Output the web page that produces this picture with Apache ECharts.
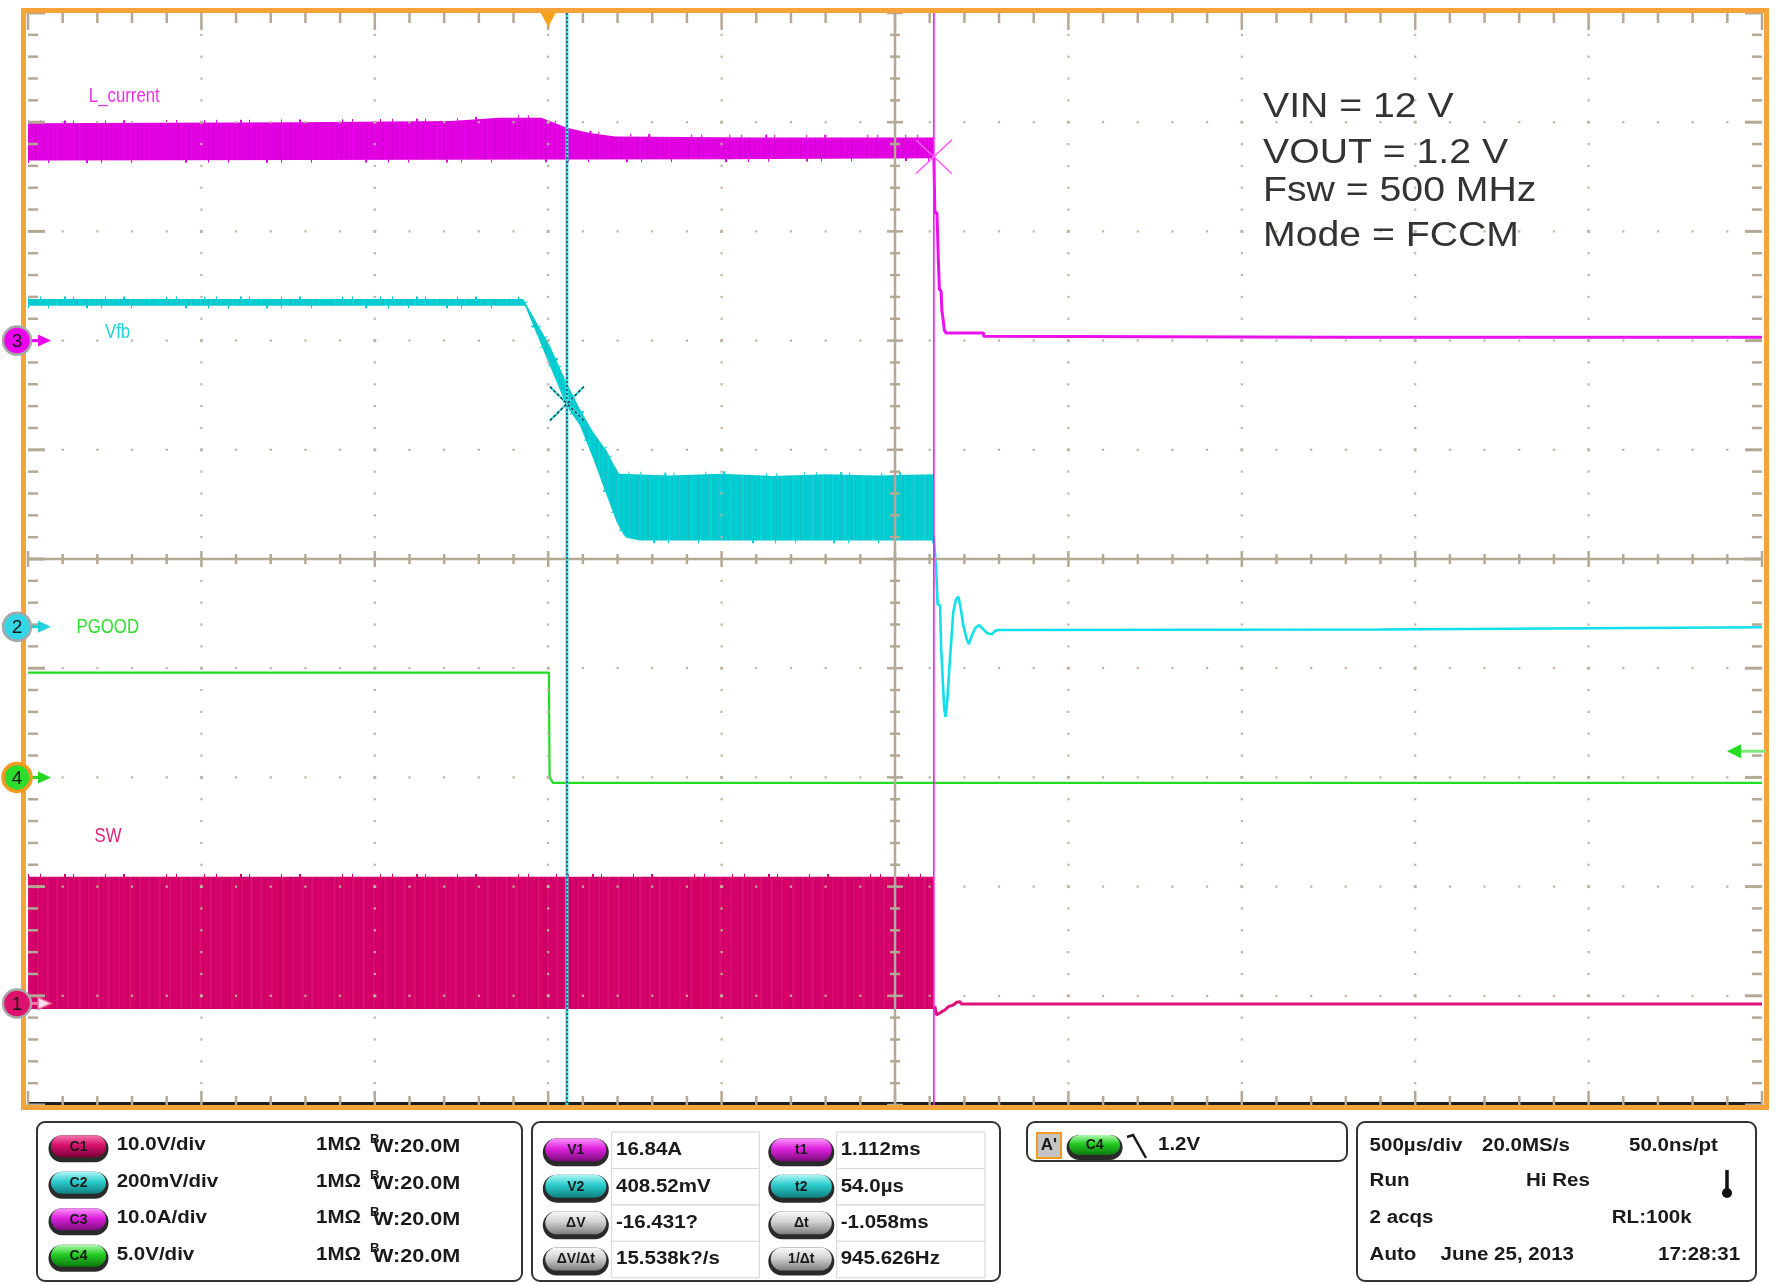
<!DOCTYPE html>
<html>
<head>
<meta charset="utf-8">
<script src="https://cdn.jsdelivr.net/npm/echarts@6/dist/echarts.min.js"></script>
<style>html,body{margin:0;padding:0;background:#fff}#c{width:1777px;height:1284px}</style>
</head>
<body>
<div id="c"></div>
<script>
// ---------------- DATA (time in ms from trigger, values in channel units) ----------------
const xRangeMs = [-1.5, 3.5];
const xMajorMs = 0.5;            // 500 µs/div
const yRangeDiv = [-5, 5];
const minorPerMajor = 5;

// channel order: C1 SW (V), C2 Vfb (mV), C3 L_current (A), C4 PGOOD (V)
const channelLabels = ['SW', 'Vfb', 'L_current', 'PGOOD'];
const channelPerDiv = [10, 200, 10, 5];
const channelOffsetDiv = [-4.07, -0.62, 2.0, -2.0];

// L_current (A) switching band envelope, then the drop after t1
const lcUpper = [[-1.5,19.9],[-0.72,20.0],[-0.28,20.1],[-0.14,20.4],[-0.02,20.4],[0.054,19.5],[0.12,19.0],[0.193,18.7],[0.6,18.6],[1.11,18.6]];
const lcLower = [[-1.5,16.5],[0.5,16.6],[1.11,16.7]];
const lcAfter = [[1.112,16.9],[1.115,11.7],[1.121,11.7],[1.125,7.4],[1.128,4.7],[1.133,4.5],[1.135,2.8],[1.139,1.9],[1.142,1.0],[1.147,0.7],[1.255,0.7],[1.256,0.4],[2.3,0.3],[3.5,0.3]];

// Vfb (mV)
const vfbUpper = [[-1.5,600],[-0.072,600],[0.005,514],[0.053,447],[0.092,398],[0.13,356],[0.169,322],[0.188,298],[0.205,280],[0.35,277],[0.5,280],[0.65,276],[0.8,279],[0.95,277],[1.11,279]];
const vfbLower = [[-1.5,588],[-0.067,588],[0.053,404],[0.092,368],[0.13,307],[0.169,240],[0.198,191],[0.217,169],[0.226,163],[0.265,158],[1.11,158]];
const vfbAfter = [[1.112,164],[1.118,111],[1.123,41],[1.13,39],[1.133,-38],[1.138,-102],[1.142,-151],[1.146,-165],[1.151,-133],[1.157,-72],[1.164,-10],[1.168,27],[1.176,50],[1.183,55],[1.19,32],[1.197,2],[1.207,-23],[1.213,-32],[1.221,-17],[1.231,-3],[1.243,3],[1.255,-5],[1.266,-12],[1.279,-14],[1.288,-8],[1.298,-6],[2.4,-5],[3.5,-1]];

// PGOOD (V)
const pgood = [[-1.5,4.8],[0.002,4.8],[0.004,0.0],[0.014,-0.25],[3.5,-0.25]];

// SW (V)
const swTop = [[-1.5,11.6],[1.11,11.6]];
const swBottom = [[-1.5,-0.5],[1.11,-0.5]];
const swAfter = [[1.112,-0.53],[1.115,-0.29],[1.12,-1.05],[1.128,-0.9],[1.135,-0.75],[1.144,-0.6],[1.154,-0.29],[1.168,-0.14],[1.178,0.11],[1.187,0.16],[1.192,-0.05],[3.5,-0.05]];

// cursors / trigger
const cursorT = [1.112, 0.054];        // t1, t2 (ms)
const cursorV = [16.84, 408.52];       // V1 on C3 (A), V2 on C2 (mV)
const cursorCh = [2, 1];
const triggerT = 0;
const triggerLevelV = 1.2;             // on C4

// panel texts
const chanSettings = ['10.0V/div', '200mV/div', '10.0A/div', '5.0V/div'];
const measLabelsL = ['V1', 'V2', 'ΔV', 'ΔV/Δt'];
const measValuesL = ['16.84A', '408.52mV', '-16.431?', '15.538k?/s'];
const measLabelsR = ['t1', 't2', 'Δt', '1/Δt'];
const measValuesR = ['1.112ms', '54.0µs', '-1.058ms', '945.626Hz'];
const annotLines = ['VIN = 12 V', 'VOUT = 1.2 V', 'Fsw = 500 MHz', 'Mode = FCCM'];

// ---------------- helpers ----------------
const toDiv = (ch, v) => channelOffsetDiv[ch] + v / channelPerDiv[ch];
const mapCh = (ch, arr) => arr.map(p => [p[0], toDiv(ch, p[1])]);

const FONT = '"Liberation Sans", Arial, Helvetica, sans-serif';
const TAN = '#b3a995';

function stripePattern(colors, widths) {
  const total = widths.reduce((a, b) => a + b, 0);
  const cv = document.createElement('canvas');
  cv.width = total; cv.height = 4;
  const ctx = cv.getContext('2d');
  let x = 0;
  widths.forEach((w, i) => { ctx.fillStyle = colors[i % colors.length]; ctx.fillRect(x, 0, w, 4); x += w; });
  return { image: cv, repeat: 'repeat' };
}
const STRIPE_W = [4, 1, 3, 2, 5, 1, 2, 1, 6, 2, 3, 1, 4, 2, 2, 1, 5, 1, 3, 2];
const JAG_A = [1, 11, 1, 23, 2, 7, 1, 31, 1, 17, 2, 41, 1, 9, 1, 27];
const JAG_B = [1, 19, 1, 37, 2, 13, 1, 29, 1, 53, 2, 21];

const bands = [
  { ch: 2, upper: lcUpper, lower: lcLower, color: '#e000e0', fill: stripePattern(['#e200e2', '#d400d4', '#e600e6', '#da00da'], STRIPE_W), jagTop: true, jagBot: true },
  { ch: 1, upper: vfbUpper, lower: vfbLower, color: '#00cdd1', fill: stripePattern(['#00cdd1', '#14bfc6', '#00d4d8', '#0cc4ca'], STRIPE_W), jagTop: true, jagBot: true },
  { ch: 0, upper: swTop, lower: swBottom, color: '#d5006a', fill: stripePattern(['#d6006b', '#c80062', '#da0a70', '#cc0064'], STRIPE_W), jagTop: true, jagBot: false }
];

function renderBand(params, api) {
  const b = bands[params.dataIndex];
  const up = b.upper.map(p => api.coord([p[0], toDiv(b.ch, p[1])]));
  const lo = b.lower.map(p => api.coord([p[0], toDiv(b.ch, p[1])]));
  const children = [{ type: 'polygon', shape: { points: up.concat(lo.slice().reverse()) }, style: { fill: b.fill } }];
  if (b.jagTop) children.push({ type: 'polyline', shape: { points: up.map(p => [p[0], p[1] - 1.2]) }, style: { stroke: b.color, lineWidth: 3, fill: 'none', lineDash: JAG_A } });
  if (b.jagBot) children.push({ type: 'polyline', shape: { points: lo.map(p => [p[0], p[1] + 1.2]) }, style: { stroke: b.color, lineWidth: 3, fill: 'none', lineDash: JAG_B } });
  return { type: 'group', children: children };
}

function renderDeco(params, api) {
  const c = [];
  const TL = api.coord([xRangeMs[0], yRangeDiv[1]]);
  const BR = api.coord([xRangeMs[1], yRangeDiv[0]]);
  const x0 = TL[0], y0 = TL[1], x1 = BR[0], y1 = BR[1];
  const xCenter = (xRangeMs[0] + xRangeMs[1]) / 2;
  const C = api.coord([xCenter, 0]);
  const xc = C[0], yc = C[1];
  const nMajX = Math.round((xRangeMs[1] - xRangeMs[0]) / xMajorMs);
  const nMajY = Math.round(yRangeDiv[1] - yRangeDiv[0]);
  const nX = nMajX * minorPerMajor, nY = nMajY * minorPerMajor;
  const L = (xa, ya, xb, yb, col, w) => c.push({ type: 'line', shape: { x1: xa, y1: ya, x2: xb, y2: yb }, style: { stroke: col, lineWidth: w } });
  const D = (x, y, s) => c.push({ type: 'rect', shape: { x: x - s / 2, y: y - s / 2, width: s, height: s }, style: { fill: '#bdb3a2' } });

  c.push({ type: 'rect', shape: { x: x0, y: y1 - 3, width: x1 - x0, height: 3 }, style: { fill: '#1e1e1e' } });
  L(xc, y0, xc, y1, TAN, 2.5);
  L(x0, yc, x1, yc, TAN, 2.5);

  const majRowsY = [];
  for (let k = 1; k < nMajY; k++) if (k !== nMajY / 2) majRowsY.push(api.coord([xCenter, yRangeDiv[0] + k])[1]);
  const majColsX = [];
  for (let k = 1; k < nMajX; k++) if (k !== nMajX / 2) majColsX.push(api.coord([xRangeMs[0] + k * xMajorMs, 0])[0]);

  for (let i = 0; i <= nX; i++) {
    const t = xRangeMs[0] + i * xMajorMs / minorPerMajor;
    const px = api.coord([t, 0])[0];
    const major = i % minorPerMajor === 0;
    L(px, y0, px, y0 + (major ? 17 : 10), TAN, 2.5);
    L(px, y1 - (major ? 14 : 9), px, y1 + 1, TAN, 2.5);
    L(px, yc - (major ? 8 : 5), px, yc + (major ? 8 : 5), TAN, 2.5);
    if (i > 0 && i < nX) majRowsY.forEach(py => D(px, py, major ? 3 : 2.2));
  }
  for (let j = 0; j <= nY; j++) {
    const v = yRangeDiv[0] + j / minorPerMajor;
    const py = api.coord([xCenter, v])[1];
    const major = j % minorPerMajor === 0;
    L(x0, py, x0 + (major ? 17 : 10), py, TAN, major ? 3 : 2.5);
    L(x1 - (major ? 17 : 10), py, x1, py, TAN, major ? 3 : 2.5);
    L(xc - (major ? 8 : 5), py, xc + (major ? 8 : 5), py, TAN, 2.5);
    if (j > 0 && j < nY && !major) majColsX.forEach(px => D(px, py, 2.2));
  }
  return { type: 'group', children: c };
}

const markerFill = ['#e0106e', '#33d6e4', '#ee00ee', '#2edc2e'];
const arrowCol = ['#e0107a', '#22d0e0', '#ee00ee', '#22d822'];

function renderMarkers(params, api) {
  const c = [];
  const TL = api.coord([xRangeMs[0], yRangeDiv[1]]);
  const BR = api.coord([xRangeMs[1], yRangeDiv[0]]);
  const x0 = TL[0], y0 = TL[1], x1 = BR[0], y1 = BR[1];

  const t2x = api.coord([cursorT[1], 0])[0];
  c.push({ type: 'line', shape: { x1: t2x, y1: y0, x2: t2x, y2: y1 }, style: { stroke: '#3fdde6', lineWidth: 3 } });
  c.push({ type: 'line', shape: { x1: t2x, y1: y0, x2: t2x, y2: y1 }, style: { stroke: '#1d3b55', lineWidth: 1.4, lineDash: [2, 2] } });
  const t1x = api.coord([cursorT[0], 0])[0];
  c.push({ type: 'line', shape: { x1: t1x, y1: y0, x2: t1x, y2: y1 }, style: { stroke: '#ff10ff', lineWidth: 1.6 } });

  const v1 = api.coord([cursorT[0], toDiv(cursorCh[0], cursorV[0])]);
  [[-18, -17, 18, 17], [-18, 17, 18, -17]].forEach(d => {
    c.push({ type: 'line', shape: { x1: v1[0] + d[0], y1: v1[1] + d[1], x2: v1[0] + d[2], y2: v1[1] + d[3] }, style: { stroke: '#ff5cff', lineWidth: 1.6 } });
  });
  const v2 = api.coord([cursorT[1], toDiv(cursorCh[1], cursorV[1])]);
  [[-17, -17, 17, 17], [-17, 17, 17, -17]].forEach(d => {
    c.push({ type: 'line', shape: { x1: v2[0] + d[0], y1: v2[1] + d[1], x2: v2[0] + d[2], y2: v2[1] + d[3] }, style: { stroke: '#44e4ea', lineWidth: 2.2 } });
    c.push({ type: 'line', shape: { x1: v2[0] + d[0], y1: v2[1] + d[1], x2: v2[0] + d[2], y2: v2[1] + d[3] }, style: { stroke: '#1b2a3a', lineWidth: 1.2, lineDash: [3, 2] } });
  });

  c.push({ type: 'rect', shape: { x: x0 - 4.5, y: y0 - 2.5, width: (x1 - x0) + 9, height: (y1 - y0) + 5 }, style: { fill: 'none', stroke: '#f6a43a', lineWidth: 5 } });

  const tx = api.coord([triggerT, 0])[0];
  c.push({ type: 'polygon', shape: { points: [[tx - 8, y0 - 1], [tx + 8, y0 - 1], [tx, y0 + 14]] }, style: { fill: '#f7a21c' } });

  const ty = api.coord([xRangeMs[1], toDiv(3, triggerLevelV)])[1];
  c.push({ type: 'line', shape: { x1: x1 - 22, y1: ty, x2: x1 + 4, y2: ty }, style: { stroke: '#7ee87e', lineWidth: 3 } });
  c.push({ type: 'polygon', shape: { points: [[x1 - 35, ty], [x1 - 21, ty - 7], [x1 - 21, ty + 7]] }, style: { fill: '#22dd22' } });

  for (let ch = 0; ch < 4; ch++) {
    const py = api.coord([xRangeMs[0], channelOffsetDiv[ch]])[1];
    const cx = x0 - 11;
    if (ch === 0) {
      c.push({ type: 'line', shape: { x1: x0 + 3, y1: py, x2: x0 + 12, y2: py }, style: { stroke: '#f07aa8', lineWidth: 3 } });
      c.push({ type: 'polygon', shape: { points: [[x0 + 10, py - 6], [x0 + 10, py + 6], [x0 + 23, py]] }, style: { fill: '#ffe0ec', stroke: '#ee6aa0', lineWidth: 1.5 } });
    } else {
      c.push({ type: 'line', shape: { x1: x0 + 3, y1: py, x2: x0 + 12, y2: py }, style: { stroke: arrowCol[ch], lineWidth: 3 } });
      c.push({ type: 'polygon', shape: { points: [[x0 + 10, py - 6], [x0 + 10, py + 6], [x0 + 23, py]] }, style: { fill: arrowCol[ch] } });
    }
    c.push({ type: 'circle', shape: { cx: cx, cy: py, r: 14 }, style: { fill: markerFill[ch], stroke: ch === 3 ? '#f39a1e' : '#a6a6a6', lineWidth: ch === 3 ? 3.5 : 2.5 } });
    c.push({ type: 'text', x: cx, y: py + 1, style: { text: String(ch + 1), font: '19px ' + FONT, fill: '#151515', align: 'center', verticalAlign: 'middle', textAlign: 'center', textVerticalAlign: 'middle' } });
  }
  return { type: 'group', children: c };
}

// ---------------- graphic (texts & info panel) ----------------
function T(x, y, text, o) {
  o = o || {};
  return {
    type: 'text', x: x, y: y, scaleX: o.sx !== undefined ? o.sx : 1.14, z: 100,
    style: {
      text: text, fill: o.color || '#1a1a1a', font: o.font || ('bold 18px ' + FONT),
      align: o.align || 'left', verticalAlign: 'middle', textAlign: o.align || 'left', textVerticalAlign: 'middle'
    }
  };
}
const PILL = {
  c1: ['#f47aae', '#d8106c', '#7a0038'],
  c2: ['#b0f6f6', '#2ccccc', '#0f7f80'],
  c3: ['#fa96fa', '#de22de', '#7c0c7c'],
  c4: ['#b0fab0', '#22cc22', '#0e780e'],
  g:  ['#fafafa', '#d2d2d2', '#7e7e7e']
};
function pill(cx, cy, w, h, key, label, fs) {
  const col = PILL[key];
  return [
    { type: 'rect', z: 99, shape: { x: cx - w / 2 - 1, y: cy - h / 2 + 1, width: w + 2, height: h + 2, r: (h + 2) / 2 }, style: { fill: '#2a2a2a' } },
    { type: 'rect', z: 99, shape: { x: cx - w / 2 + 1.5, y: cy - h / 2 + 1, width: w - 3, height: h - 3, r: (h - 3) / 2 },
      style: { fill: { type: 'linear', x: 0, y: 0, x2: 0, y2: 1, colorStops: [{ offset: 0, color: col[0] }, { offset: 0.45, color: col[1] }, { offset: 1, color: col[2] }] } } },
    T(cx, cy, label, { font: 'bold ' + (fs || 14) + 'px ' + FONT, sx: 1, align: 'center', color: '#1a1a1a' })
  ];
}
function box(x, y, w, h) {
  return { type: 'rect', z: 98, shape: { x: x, y: y, width: w, height: h, r: 8 }, style: { fill: '#fff', stroke: '#333', lineWidth: 2 } };
}

const g = [];
g.push(T(88.8, 96.5, channelLabels[2], { font: '20px ' + FONT, color: '#ee30ee', sx: 0.84 }));
g.push(T(105, 332.5, channelLabels[1], { font: '20px ' + FONT, color: '#22d2dc', sx: 0.84 }));
g.push(T(76.5, 627.3, channelLabels[3], { font: '20px ' + FONT, color: '#30e030', sx: 0.84 }));
g.push(T(94.5, 836, channelLabels[0], { font: '20px ' + FONT, color: '#e8207c', sx: 0.84 }));
const annotY = [107.7, 153, 191, 236.5];
annotLines.forEach((s, i) => g.push(T(1263, annotY[i], s, { font: '35px ' + FONT, color: '#333333', sx: 1.12 })));

g.push(box(37, 1122, 485, 159));
const rows1 = [1145.2, 1181.7, 1218.2, 1254.7];
const pillKeys = ['c1', 'c2', 'c3', 'c4'];
rows1.forEach((y, i) => {
  pill(78.5, y + 1.5, 58, 25, pillKeys[i], 'C' + (i + 1), 14).forEach(e => g.push(e));
  g.push(T(116.7, y, chanSettings[i]));
  g.push(T(316, y, '1MΩ'));
  g.push(T(370, y - 6, 'B', { font: 'bold 12px ' + FONT, sx: 1.1 }));
  g.push(T(373, y + 2, 'W:20.0M', { sx: 1.2 }));
});

g.push(box(532, 1122, 468, 159));
const rows2 = [1150.3, 1186.7, 1223.3, 1259.5];
const keysL = ['c3', 'c2', 'g', 'g'];
rows2.forEach((y, i) => {
  g.push({ type: 'rect', z: 99, shape: { x: 611.7, y: y - 18.3, width: 147.6, height: 36.6 }, style: { fill: '#fff', stroke: '#d4d4d4', lineWidth: 1 } });
  g.push({ type: 'rect', z: 99, shape: { x: 836.7, y: y - 18.3, width: 148.3, height: 36.6 }, style: { fill: '#fff', stroke: '#d4d4d4', lineWidth: 1 } });
  pill(575.8, y, 64, 26, keysL[i], measLabelsL[i], 14).forEach(e => g.push(e));
  pill(801.3, y, 64, 26, keysL[i], measLabelsR[i], 14).forEach(e => g.push(e));
  g.push(T(616, y, measValuesL[i]));
  g.push(T(840.7, y, measValuesR[i]));
});

g.push(box(1027, 1122, 320, 39));
g.push({ type: 'rect', z: 99, shape: { x: 1037, y: 1133, width: 24, height: 25 }, style: { fill: '#c4c4c4', stroke: '#f39a1e', lineWidth: 2 } });
g.push(T(1049, 1145.5, "A'", { font: 'bold 17px ' + FONT, sx: 1, align: 'center' }));
pill(1094.6, 1145.5, 54, 23, 'c4', 'C4', 14).forEach(e => g.push(e));
g.push({ type: 'polyline', z: 100, shape: { points: [[1127, 1137], [1133, 1135], [1146, 1158]] }, style: { stroke: '#1a1a1a', lineWidth: 2.5, fill: 'none' } });
g.push(T(1158, 1145.5, '1.2V'));

g.push(box(1357, 1122, 399, 159));
const rows4 = [1146, 1181, 1218, 1255.5];
g.push(T(1369.6, rows4[0], '500µs/div'));
g.push(T(1482, rows4[0], '20.0MS/s'));
g.push(T(1629, rows4[0], '50.0ns/pt'));
g.push(T(1369.6, rows4[1], 'Run'));
g.push(T(1526, rows4[1], 'Hi Res'));
g.push(T(1369.6, rows4[2], '2 acqs'));
g.push(T(1611.8, rows4[2], 'RL:100k'));
g.push(T(1369.6, rows4[3], 'Auto'));
g.push(T(1440.5, rows4[3], 'June 25, 2013'));
g.push(T(1658, rows4[3], '17:28:31'));
g.push({ type: 'line', z: 100, shape: { x1: 1727, y1: 1170, x2: 1727, y2: 1191 }, style: { stroke: '#111', lineWidth: 3.5 } });
g.push({ type: 'circle', z: 100, shape: { cx: 1727, cy: 1193, r: 5 }, style: { fill: '#111' } });

// ---------------- chart ----------------
const chart = echarts.init(document.getElementById('c'), null, { renderer: 'canvas' });
const lineS = (data, color, w, z) => ({
  type: 'line', data: data, symbol: 'none', showSymbol: false, silent: true, clip: true, z: z,
  lineStyle: { color: color, width: w }, animation: false
});
chart.setOption({
  animation: false,
  backgroundColor: '#ffffff',
  grid: { left: 28, top: 13, width: 1734, height: 1092, show: false },
  xAxis: { type: 'value', min: xRangeMs[0], max: xRangeMs[1], interval: xMajorMs, show: false },
  yAxis: { type: 'value', min: yRangeDiv[0], max: yRangeDiv[1], interval: 1, show: false },
  series: [
    { type: 'custom', name: 'bands', renderItem: renderBand, data: [[0, 0], [0, 0], [0, 0]], encode: { x: 0, y: 1 }, clip: true, silent: true, z: 2 },
    lineS(mapCh(2, lcAfter), '#ea10ea', 3, 3),
    lineS(mapCh(1, vfbAfter), '#10e0ea', 2.6, 3),
    lineS(mapCh(3, pgood), '#22dd22', 2.2, 3),
    lineS(mapCh(0, swAfter), '#e0107a', 3, 3),
    { type: 'custom', name: 'grid', renderItem: renderDeco, data: [[0, 0]], encode: { x: 0, y: 1 }, clip: false, silent: true, z: 4 },
    { type: 'custom', name: 'markers', renderItem: renderMarkers, data: [[0, 0]], encode: { x: 0, y: 1 }, clip: false, silent: true, z: 5 }
  ],
  graphic: g
});
</script>
</body>
</html>
